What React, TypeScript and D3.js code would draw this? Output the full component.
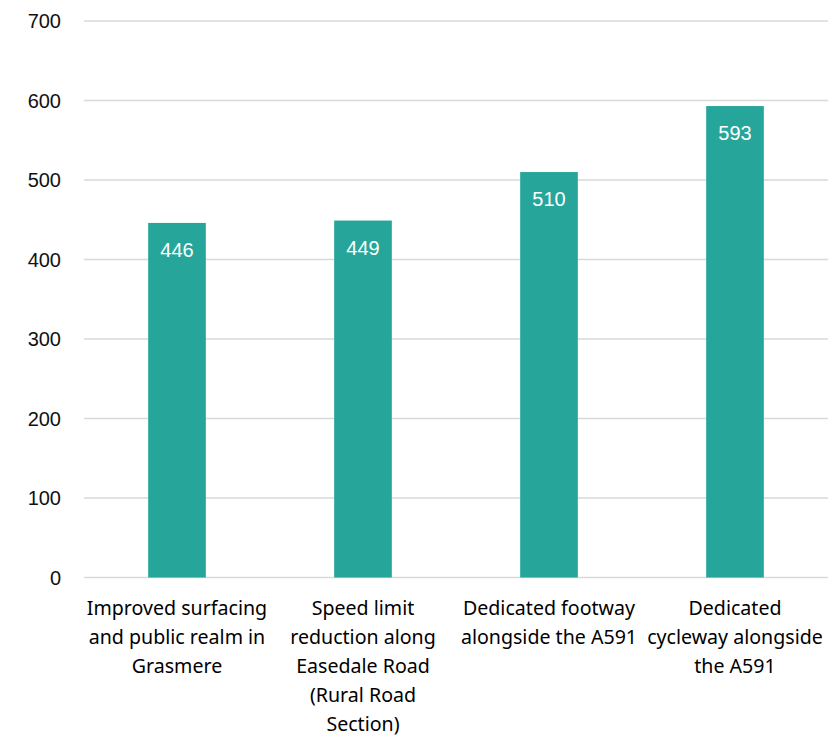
import React from "react";
import * as d3 from "d3";

const categories = [
  "Improved surfacing and public realm in Grasmere",
  "Speed limit reduction along Easedale Road (Rural Road Section)",
  "Dedicated footway alongside the A591",
  "Dedicated cycleway alongside the A591",
];
const categoryLines = [
  ["Improved surfacing", "and public realm in", "Grasmere"],
  ["Speed limit", "reduction along", "Easedale Road", "(Rural Road", "Section)"],
  ["Dedicated footway", "alongside the A591"],
  ["Dedicated", "cycleway alongside", "the A591"],
];
const values = [446, 449, 510, 593];
const yTicks = [0, 100, 200, 300, 400, 500, 600, 700];

const W = 839;
const H = 736;

export default function App() {
  const x = d3
    .scaleBand<string>()
    .domain(categories)
    .range([84, 828])
    .paddingInner(0.69)
    .paddingOuter(0.345);
  const y = d3.scaleLinear().domain([0, 700]).range([577.5, 21]);
  const color = "#26A69A";
  const labelFont = "'Noto Sans', 'Open Sans', sans-serif";
  const numFont = "'Liberation Sans', Arial, sans-serif";

  return (
    <svg
      width={W}
      height={H}
      style={{ position: "absolute", left: 0, top: 0, background: "#fff" }}
    >
      {yTicks.map((t) => (
        <g key={t}>
          <line
            x1={84}
            x2={828}
            y1={y(t)}
            y2={y(t)}
            stroke="#d9d9d9"
            strokeWidth={1.3}
          />
          <text
            x={61}
            y={y(t)}
            dy="0.35em"
            textAnchor="end"
            fontFamily={numFont}
            fontSize={20}
            fill="#111"
          >
            {t}
          </text>
        </g>
      ))}
      {categories.map((c, i) => {
        const bx = x(c)!;
        const bw = x.bandwidth();
        const top = y(values[i]);
        return (
          <g key={c}>
            <rect
              x={bx}
              y={top}
              width={bw}
              height={y(0) - top}
              fill={color}
            />
            <text
              x={bx + bw / 2}
              y={top + 34}
              textAnchor="middle"
              fontFamily={numFont}
              fontSize={20}
              fill="#fff"
            >
              {values[i]}
            </text>
            <text
              x={bx + bw / 2}
              y={615}
              textAnchor="middle"
              fontFamily={labelFont}
              fontSize={19.6}
              fill="#000"
            >
              {categoryLines[i].map((l, j) => (
                <tspan key={j} x={bx + bw / 2} dy={j === 0 ? 0 : 29}>
                  {l}
                </tspan>
              ))}
            </text>
          </g>
        );
      })}
    </svg>
  );
}
